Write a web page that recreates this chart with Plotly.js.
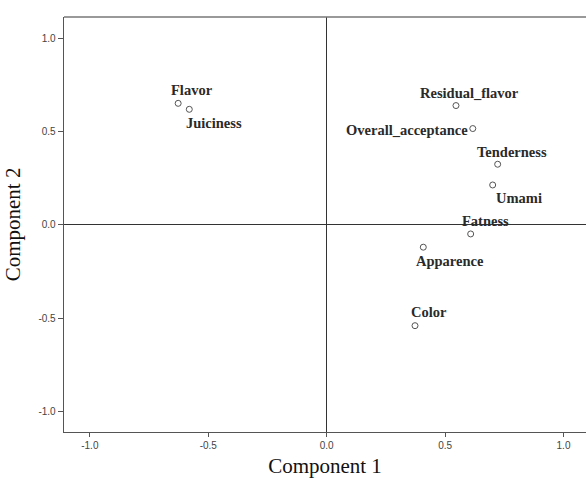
<!DOCTYPE html>
<html>
<head>
<meta charset="utf-8">
<script src="https://cdn.plot.ly/plotly-3.0.1.min.js"></script>
<style>html,body{margin:0;padding:0;background:#fff;}#chart{width:586px;height:478px;}</style>
</head>
<body>
<div id="chart"></div>
<script>
// Loadings (Component 1, Component 2)
const variables = ["Flavor", "Juiciness", "Residual_flavor", "Overall_acceptance", "Tenderness", "Umami", "Fatness", "Apparence", "Color"];
const component1 = [-0.627, -0.580, 0.546, 0.617, 0.722, 0.701, 0.608, 0.408, 0.373];
const component2 = [0.651, 0.619, 0.639, 0.516, 0.325, 0.214, -0.048, -0.119, -0.539];
const xTickVals = [-1.0, -0.5, 0.0, 0.5, 1.0];
const xTickText = ["-1.0", "-0.5", "0.0", "0.5", "1.0"];
const yTickVals = [-1.0, -0.5, 0.0, 0.5, 1.0];
const yTickText = ["-1.0", "-0.5", "0.0", "0.5", "1.0"];

// label placement styles (pixel offsets from each point)
const labelStyle = {
  "Flavor":             {xanchor: "center", xshift: 14,   yshift: 13.3},
  "Juiciness":          {xanchor: "center", xshift: 24.5, yshift: -13.4},
  "Residual_flavor":    {xanchor: "center", xshift: 14,   yshift: 12.4},
  "Overall_acceptance": {xanchor: "right",  xshift: -3,   yshift: -1.3},
  "Tenderness":         {xanchor: "center", xshift: 14,   yshift: 12.6},
  "Umami":              {xanchor: "center", xshift: 26.5, yshift: -13.3},
  "Fatness":            {xanchor: "center", xshift: 14.5, yshift: 13.3},
  "Apparence":          {xanchor: "center", xshift: 26.7, yshift: -13.4},
  "Color":              {xanchor: "center", xshift: 14.2, yshift: 13.7}
};

const trace = {
  type: "scatter",
  mode: "markers",
  x: component1,
  y: component2,
  text: variables,
  hoverinfo: "text",
  marker: {symbol: "circle-open", size: 6, color: "#555555", line: {width: 1, color: "#555555"}},
  cliponaxis: false
};

const annotations = variables.map((v, i) => Object.assign({
  x: component1[i],
  y: component2[i],
  xref: "x",
  yref: "y",
  text: "<b>" + v + "</b>",
  showarrow: false,
  yanchor: "middle",
  font: {family: "Liberation Serif", size: 14.5, color: "#2a2a2a"}
}, labelStyle[v]));

const tickFont = {family: "Liberation Sans", size: 10, color: "#444444"};
const titleFont = {family: "Liberation Serif", size: 21, color: "#111111"};

const layout = {
  width: 586,
  height: 478,
  margin: {l: 64, r: 0, t: 17, b: 46},
  paper_bgcolor: "#ffffff",
  plot_bgcolor: "#ffffff",
  showlegend: false,
  xaxis: {
    range: [-1.109, 1.095],
    tickvals: xTickVals,
    ticktext: xTickText,
    tickfont: tickFont,
    ticks: "outside",
    ticklen: 4,
    tickcolor: "#555555",
    showline: true,
    linecolor: "#555555",
    linewidth: 1.3,
    showgrid: false,
    zeroline: true,
    zerolinecolor: "#333333",
    zerolinewidth: 1,
    title: {text: "Component 1", font: titleFont, standoff: 13}
  },
  yaxis: {
    range: [-1.108, 1.113],
    tickvals: yTickVals,
    ticktext: yTickText,
    tickfont: tickFont,
    ticks: "outside",
    ticklen: 5,
    tickcolor: "#555555",
    showline: true,
    linecolor: "#555555",
    linewidth: 1.3,
    showgrid: false,
    zeroline: true,
    zerolinecolor: "#333333",
    zerolinewidth: 1,
    title: {text: "Component 2", font: titleFont, standoff: 12}
  },
  shapes: [
    {type: "line", xref: "paper", yref: "paper", x0: 0, x1: 1, y0: 1, y1: 1, line: {color: "#777777", width: 1.3}}
  ],
  annotations: annotations
};

Plotly.newPlot("chart", [trace], layout, {displayModeBar: false, staticPlot: true});
</script>
</body>
</html>
